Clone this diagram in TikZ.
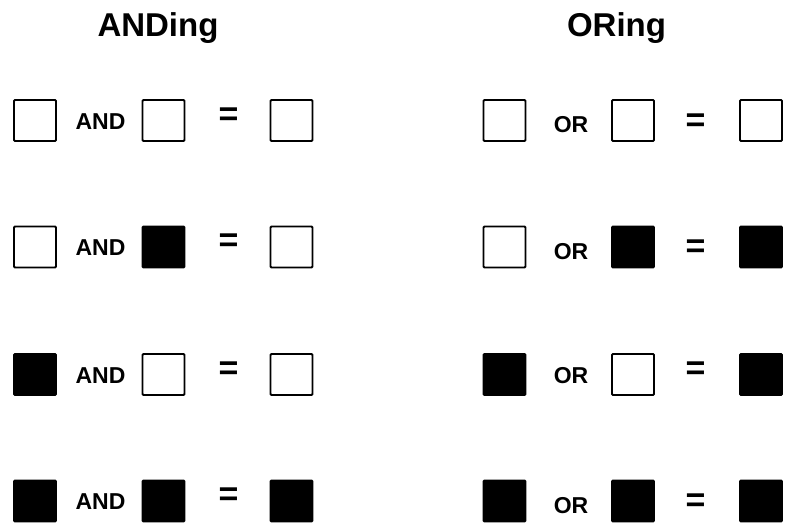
\documentclass[tikz,border=0pt]{standalone}
\usepackage{fontspec}
\setmainfont{Liberation Sans}
\begin{document}
\begin{tikzpicture}[x=1pt,y=-1pt]
\tikzset{
  cell/.style={draw=black, line width=1.9pt, minimum width=42pt, minimum height=41pt, inner sep=0pt, rounded corners=1pt},
  cellon/.style={cell, fill=black},
  celloff/.style={cell, fill=white},
  optext/.style={font=\fontsize{23}{23}\selectfont\bfseries, inner sep=0pt},
  eqtext/.style={font=\fontsize{34}{34}\selectfont\bfseries, inner sep=0pt},
  headtext/.style={font=\fontsize{33}{33}\selectfont\bfseries, anchor=base, inner sep=0pt}
}
\useasboundingbox (0,0) rectangle (786,524);

% headings
\node[headtext] (hand) at (158,37) {ANDing};
\node[headtext] (hor) at (616.5,37) {ORing};

% ---- AND table ----
% row 1
\node[celloff] (a1x) at (35,120.5) {};
\node[optext] (a1op) at (100.5,121.5) {AND};
\node[celloff] (a1y) at (163.5,120.5) {};
\node[eqtext] (a1eq) at (228.5,116.5) {=};
\node[celloff] (a1z) at (291.5,120.5) {};
% row 2
\node[celloff] (a2x) at (35,247) {};
\node[optext] (a2op) at (100.5,248) {AND};
\node[cellon] (a2y) at (163.5,247) {};
\node[eqtext] (a2eq) at (228.5,243) {=};
\node[celloff] (a2z) at (291.5,247) {};
% row 3
\node[cellon] (a3x) at (35,374.5) {};
\node[optext] (a3op) at (100.5,375.5) {AND};
\node[celloff] (a3y) at (163.5,374.5) {};
\node[eqtext] (a3eq) at (228.5,370.5) {=};
\node[celloff] (a3z) at (291.5,374.5) {};
% row 4
\node[cellon] (a4x) at (35,501) {};
\node[optext] (a4op) at (100.5,502) {AND};
\node[cellon] (a4y) at (163.5,501) {};
\node[eqtext] (a4eq) at (228.5,497) {=};
\node[cellon] (a4z) at (291.5,501) {};

% ---- OR table ----
% row 1
\node[celloff] (o1x) at (504.5,120.5) {};
\node[optext] (o1op) at (571,125) {OR};
\node[celloff] (o1y) at (633,120.5) {};
\node[eqtext] (o1eq) at (695.5,122.5) {=};
\node[celloff] (o1z) at (761,120.5) {};
% row 2
\node[celloff] (o2x) at (504.5,247) {};
\node[optext] (o2op) at (571,251.5) {OR};
\node[cellon] (o2y) at (633,247) {};
\node[eqtext] (o2eq) at (695.5,249) {=};
\node[cellon] (o2z) at (761,247) {};
% row 3
\node[cellon] (o3x) at (504.5,374.5) {};
\node[optext] (o3op) at (571,375.5) {OR};
\node[celloff] (o3y) at (633,374.5) {};
\node[eqtext] (o3eq) at (695.5,370.5) {=};
\node[cellon] (o3z) at (761,374.5) {};
% row 4
\node[cellon] (o4x) at (504.5,501) {};
\node[optext] (o4op) at (571,505.5) {OR};
\node[cellon] (o4y) at (633,501) {};
\node[eqtext] (o4eq) at (695.5,503) {=};
\node[cellon] (o4z) at (761,501) {};
\end{tikzpicture}
\end{document}
